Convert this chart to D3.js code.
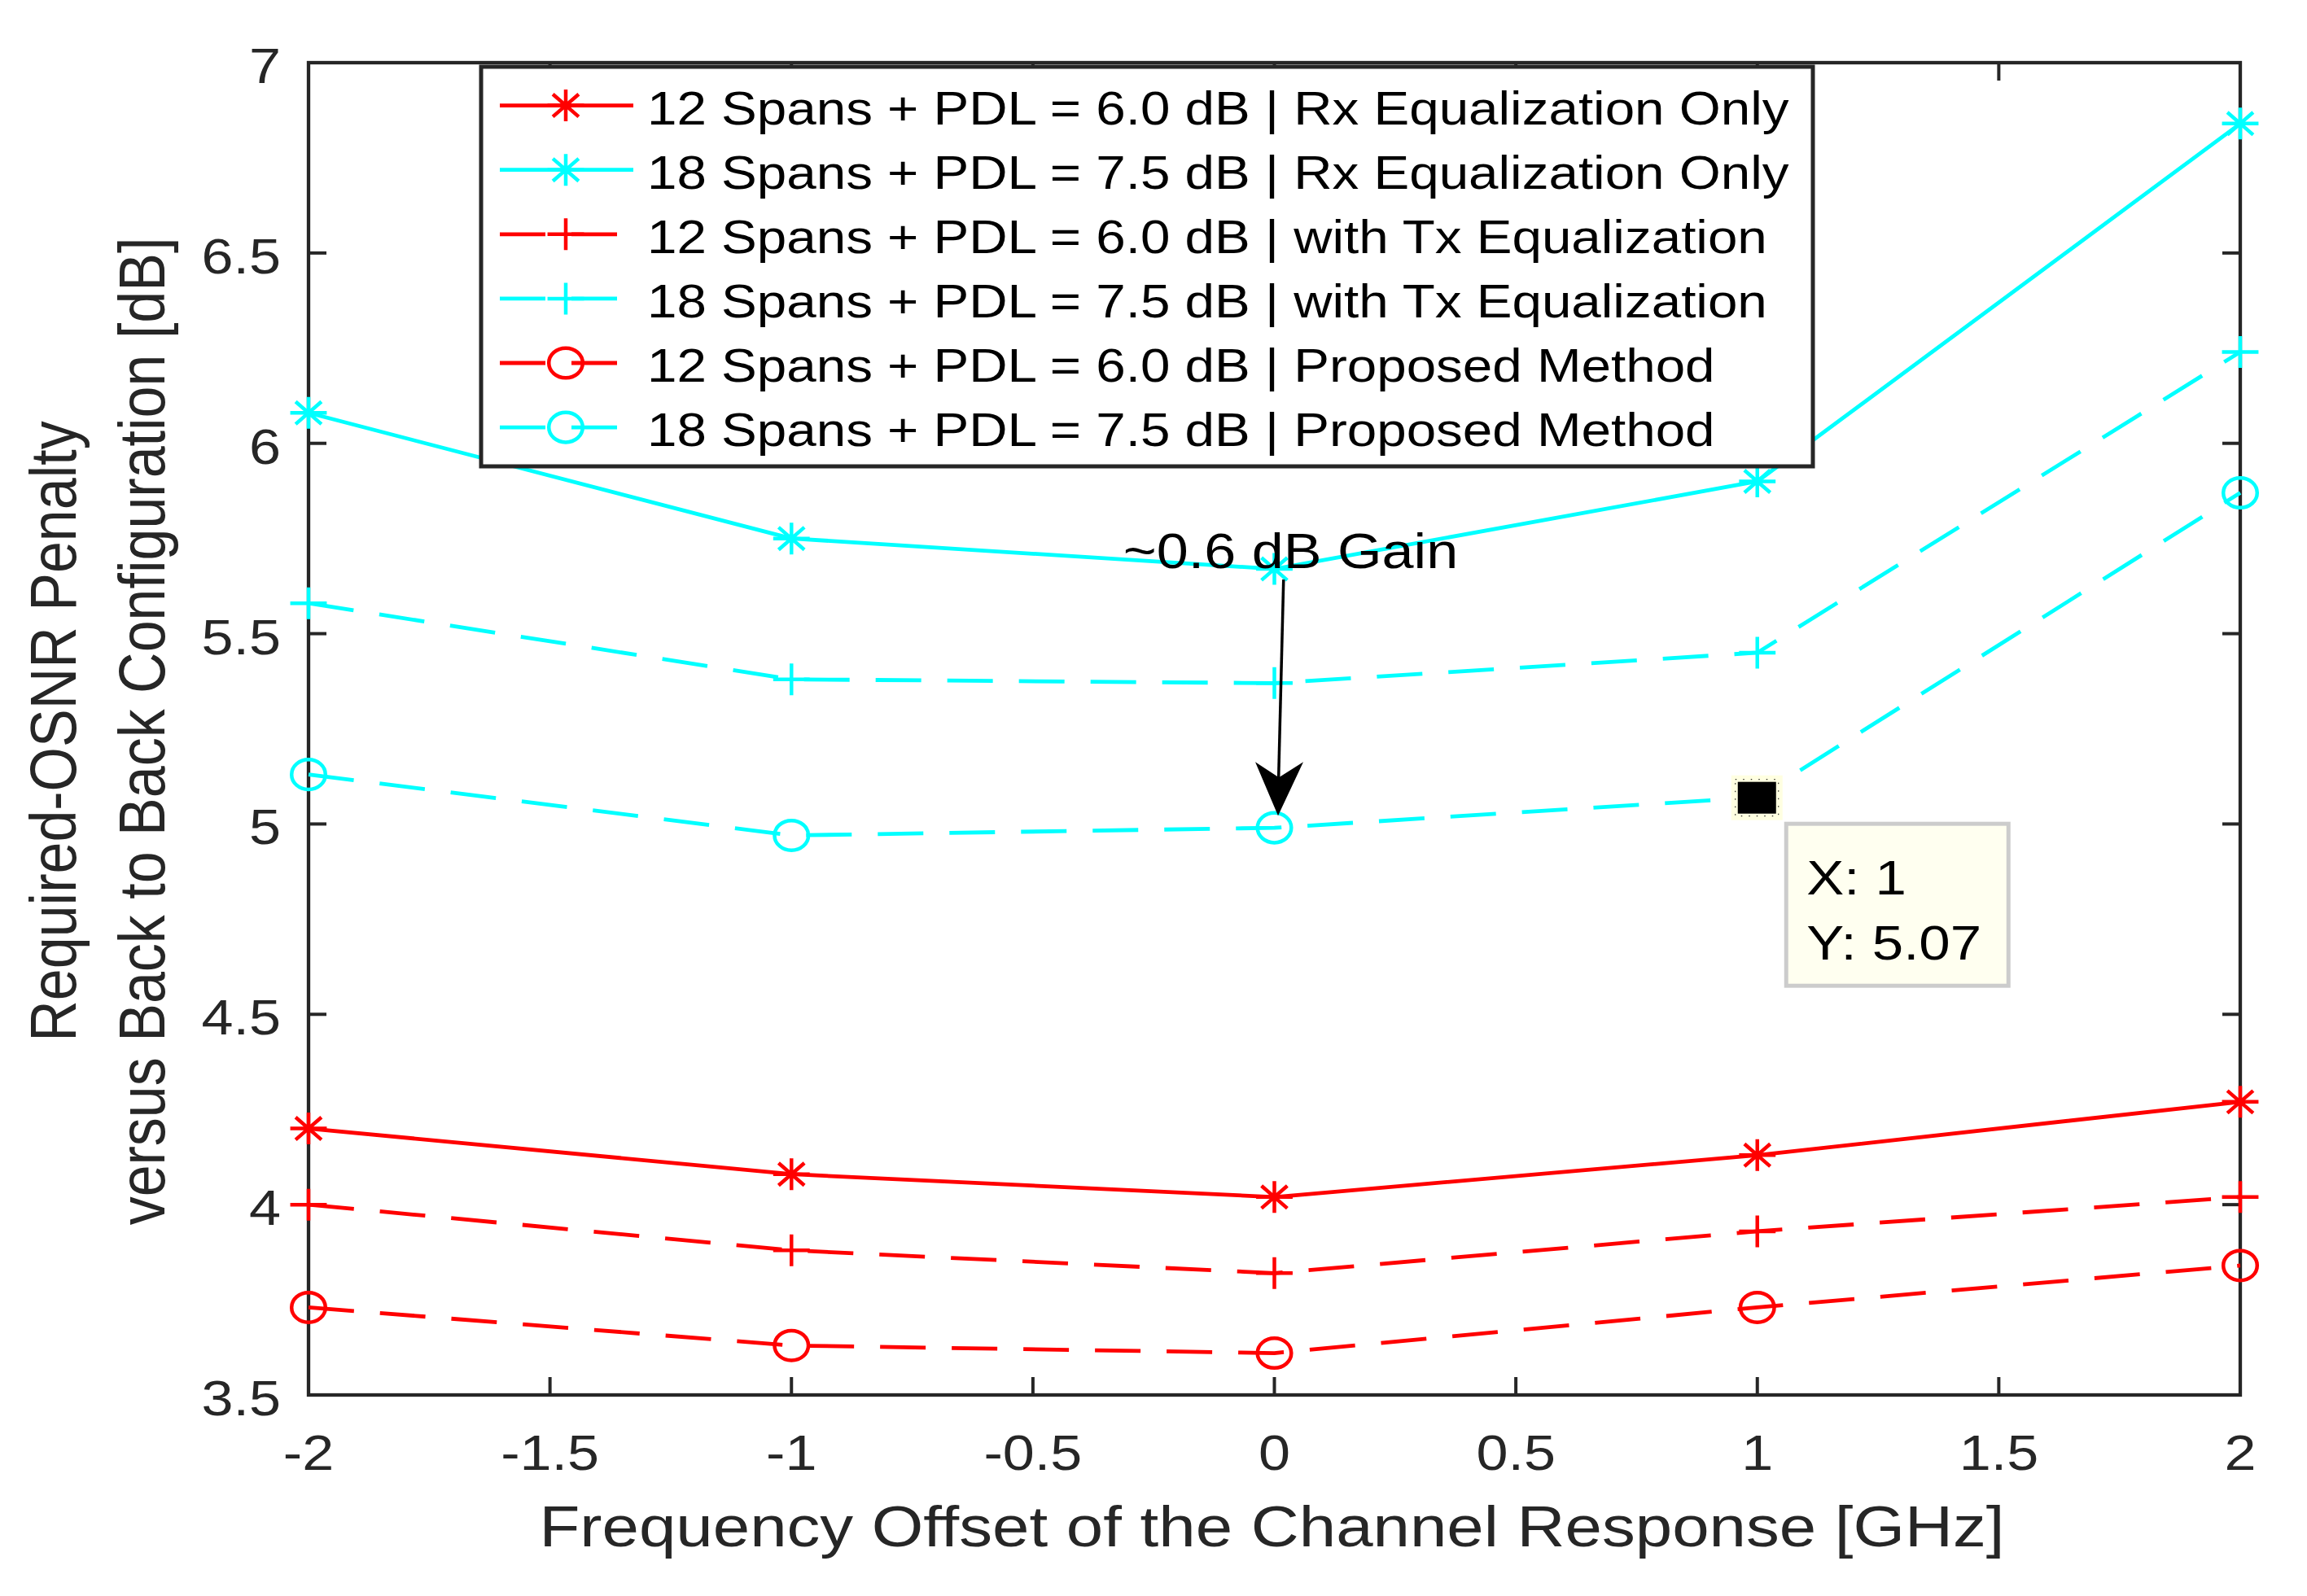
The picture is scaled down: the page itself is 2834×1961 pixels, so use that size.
<!DOCTYPE html>
<html><head><meta charset="utf-8">
<script src="https://cdn.jsdelivr.net/npm/d3@7"></script>
<style>html,body{margin:0;padding:0;background:#fff;} svg{display:block;}</style>
</head><body>
<svg id="chart" width="2834" height="1961"></svg>
<script>
// ---------- data ----------
const freqOffsets = [-2, -1, 0, 1, 2];
const rx12   = [4.20, 4.08, 4.02, 4.13, 4.27];
const rx18   = [6.08, 5.75, 5.67, 5.90, 6.84];
const tx12   = [4.00, 3.88, 3.82, 3.93, 4.02];
const tx18   = [5.58, 5.38, 5.37, 5.45, 6.24];
const prop12 = [3.73, 3.63, 3.61, 3.73, 3.84];
const prop18 = [5.13, 4.97, 4.99, 5.07, 5.87];
const seriesLabels = [
  "12 Spans + PDL = 6.0 dB | Rx Equalization Only",
  "18 Spans + PDL = 7.5 dB | Rx Equalization Only",
  "12 Spans + PDL = 6.0 dB | with Tx Equalization",
  "18 Spans + PDL = 7.5 dB | with Tx Equalization",
  "12 Spans + PDL = 6.0 dB | Proposed Method",
  "18 Spans + PDL = 7.5 dB | Proposed Method"
];
const xTickValues = [-2, -1.5, -1, -0.5, 0, 0.5, 1, 1.5, 2];
const xTickLabels = ["-2", "-1.5", "-1", "-0.5", "0", "0.5", "1", "1.5", "2"];
const yTickValues = [3.5, 4, 4.5, 5, 5.5, 6, 6.5, 7];
const yTickLabels = ["3.5", "4", "4.5", "5", "5.5", "6", "6.5", "7"];
const xAxisTitle = "Frequency Offset of the Channel Response [GHz]";
const yAxisTitle = ["Required-OSNR Penalty", "versus Back to Back Configuration [dB]"];
const datatipPoint = {x: 1, y: 5.07};
const datatipLines = ["X: 1", "Y: 5.07"];
const gainLabel = "~0.6 dB Gain";
const gainLabelPos = {x: -0.313, y: 5.672};
const gainArrow = {x0: 0.019, y0: 5.642, x1: 0.0076, y1: 5.022};

// ---------- layout / style ----------
const W = 2834, H = 1961;
const L = 379, R = 2752, T = 77, B = 1714;
const SX = 1.15;            // horizontal stretch of the original bitmap
const AX = "#262626";
const FONT = "'Liberation Sans', Arial, Helvetica, sans-serif";
const RED = "#ff0000", CYAN = "#00ffff";
const DASH = "56,32";

const series = [
  {vals: rx12,   color: RED,  dash: null, marker: "asterisk"},
  {vals: rx18,   color: CYAN, dash: null, marker: "asterisk"},
  {vals: tx12,   color: RED,  dash: DASH, marker: "plus"},
  {vals: tx18,   color: CYAN, dash: DASH, marker: "plus"},
  {vals: prop12, color: RED,  dash: DASH, marker: "circle"},
  {vals: prop18, color: CYAN, dash: DASH, marker: "circle"}
];
series.forEach((s, i) => s.label = seriesLabels[i]);

const svg = d3.select("#chart");
svg.append("rect").attr("width", W).attr("height", H).attr("fill", "#fff");

const x = d3.scaleLinear().domain([-2, 2]).range([L, R]);
const y = d3.scaleLinear().domain([3.5, 7]).range([B, T]);

function stext(g, px, py, str, size, anchor, fill) {
  return g.append("text")
    .attr("transform", `translate(${px},${py}) scale(${SX},1)`)
    .attr("text-anchor", anchor)
    .attr("font-family", FONT)
    .attr("font-size", size)
    .attr("fill", fill)
    .text(str);
}

// ---------- axes box and ticks ----------
const axG = svg.append("g");
axG.append("rect").attr("x", L).attr("y", T).attr("width", R - L).attr("height", B - T)
  .attr("fill", "none").attr("stroke", AX).attr("stroke-width", 4.3);
const TL = 22;
xTickValues.forEach((v, i) => {
  const px = x(v);
  axG.append("line").attr("x1", px).attr("x2", px).attr("y1", B).attr("y2", B - TL)
    .attr("stroke", AX).attr("stroke-width", 4);
  axG.append("line").attr("x1", px).attr("x2", px).attr("y1", T).attr("y2", T + TL)
    .attr("stroke", AX).attr("stroke-width", 4);
  stext(axG, px, 1806, xTickLabels[i], 61, "middle", AX);
});
yTickValues.forEach((v, i) => {
  const py = y(v);
  axG.append("line").attr("x1", L).attr("x2", L + TL).attr("y1", py).attr("y2", py)
    .attr("stroke", AX).attr("stroke-width", 4);
  axG.append("line").attr("x1", R).attr("x2", R - TL).attr("y1", py).attr("y2", py)
    .attr("stroke", AX).attr("stroke-width", 4);
  stext(axG, 345, py + 25, yTickLabels[i], 61, "end", AX);
});

// axis titles
stext(axG, (L + R) / 2 - 3, 1900, xAxisTitle, 71, "middle", AX);
const yTitleX = [93, 202];
yAxisTitle.forEach((t, i) => {
  axG.append("text")
    .attr("transform", `translate(${yTitleX[i]},${(T + B) / 2 + 3}) rotate(-90) scale(1,${SX})`)
    .attr("text-anchor", "middle")
    .attr("font-family", FONT).attr("font-size", 70).attr("fill", AX)
    .text(t);
});

// ---------- markers ----------
function markerPath(type) {
  const v = 19.5, h = v * SX;
  if (type === "asterisk") {
    const dv = v * 0.707, dh = dv * SX;
    return `M0,${-v}L0,${v}M${-h},0L${h},0M${-dh},${-dv}L${dh},${dv}M${-dh},${dv}L${dh},${-dv}`;
  }
  if (type === "plus") {
    return `M0,${-v}L0,${v}M${-h},0L${h},0`;
  }
  return null;
}
function drawMarker(g, type, px, py, color) {
  if (type === "circle") {
    g.append("ellipse").attr("cx", px).attr("cy", py).attr("rx", 20.8).attr("ry", 18.3)
      .attr("fill", "none").attr("stroke", color).attr("stroke-width", 4.5);
  } else {
    g.append("path").attr("d", markerPath(type)).attr("transform", `translate(${px},${py})`)
      .attr("fill", "none").attr("stroke", color).attr("stroke-width", 4.5);
  }
}

// ---------- data lines ----------
const lineGen = d3.line().x(d => x(d[0])).y(d => y(d[1]));
const dataG = svg.append("g");
series.forEach(s => {
  const pts = freqOffsets.map((f, i) => [f, s.vals[i]]);
  dataG.append("path").attr("d", lineGen(pts))
    .attr("fill", "none").attr("stroke", s.color).attr("stroke-width", 4.8)
    .attr("stroke-dasharray", s.dash)
    .attr("stroke-linejoin", "round");
  pts.forEach(p => drawMarker(dataG, s.marker, x(p[0]), y(p[1]), s.color));
});

// ---------- legend ----------
const legG = svg.append("g");
const LX0 = 591, LX1 = 2227, LY0 = 82, LY1 = 573;
legG.append("rect").attr("x", LX0).attr("y", LY0).attr("width", LX1 - LX0).attr("height", LY1 - LY0)
  .attr("fill", "#fff").attr("stroke", AX).attr("stroke-width", 5);
series.forEach((s, i) => {
  const cy = 129.6 + i * 79.1;
  legG.append("line").attr("x1", 614).attr("x2", 778).attr("y1", cy).attr("y2", cy)
    .attr("stroke", s.color).attr("stroke-width", 4.8).attr("stroke-dasharray", s.dash);
  drawMarker(legG, s.marker, 695, cy, s.color);
  stext(legG, 795, cy + 23, s.label, 57, "start", "#000");
});

// ---------- annotation ----------
const annG = svg.append("g");
stext(annG, x(gainLabelPos.x), y(gainLabelPos.y), gainLabel, 61, "start", "#000");
{
  const x0 = x(gainArrow.x0), y0 = y(gainArrow.y0), x1 = x(gainArrow.x1), y1 = y(gainArrow.y1);
  annG.append("line").attr("x1", x0).attr("y1", y0).attr("x2", x1 + 0.5).attr("y2", y1 - 40)
    .attr("stroke", "#000").attr("stroke-width", 3.5);
  annG.append("path")
    .attr("d", `M${x1},${y1}L${x1 - 28},${y1 - 66}L${x1 + 1},${y1 - 47}L${x1 + 31},${y1 - 66}Z`)
    .attr("fill", "#000");
}

// ---------- datatip ----------
const dtG = svg.append("g");
{
  const px = x(datatipPoint.x), py = y(datatipPoint.y);
  dtG.append("rect").attr("x", px - 32).attr("y", py - 27).attr("width", 63).attr("height", 55)
    .attr("fill", "#ffffe1");
  dtG.append("rect").attr("x", px - 24).attr("y", py - 19).attr("width", 47).attr("height", 39)
    .attr("fill", "#000");
  dtG.append("rect").attr("x", px - 27).attr("y", py - 22).attr("width", 53).attr("height", 45)
    .attr("fill", "none").attr("stroke", "#000").attr("stroke-width", 1).attr("stroke-dasharray", "1.5,8");
  const bx = px + 35.5, by = py + 32.5, bw = 273, bh = 199;
  dtG.append("rect").attr("x", bx).attr("y", by).attr("width", bw).attr("height", bh)
    .attr("fill", "#fffff0").attr("stroke", "#cccccc").attr("stroke-width", 5);
  stext(dtG, bx + 25, by + 87, datatipLines[0], 60, "start", "#000");
  stext(dtG, bx + 25, by + 167, datatipLines[1], 60, "start", "#000");
}
</script>
</body></html>
